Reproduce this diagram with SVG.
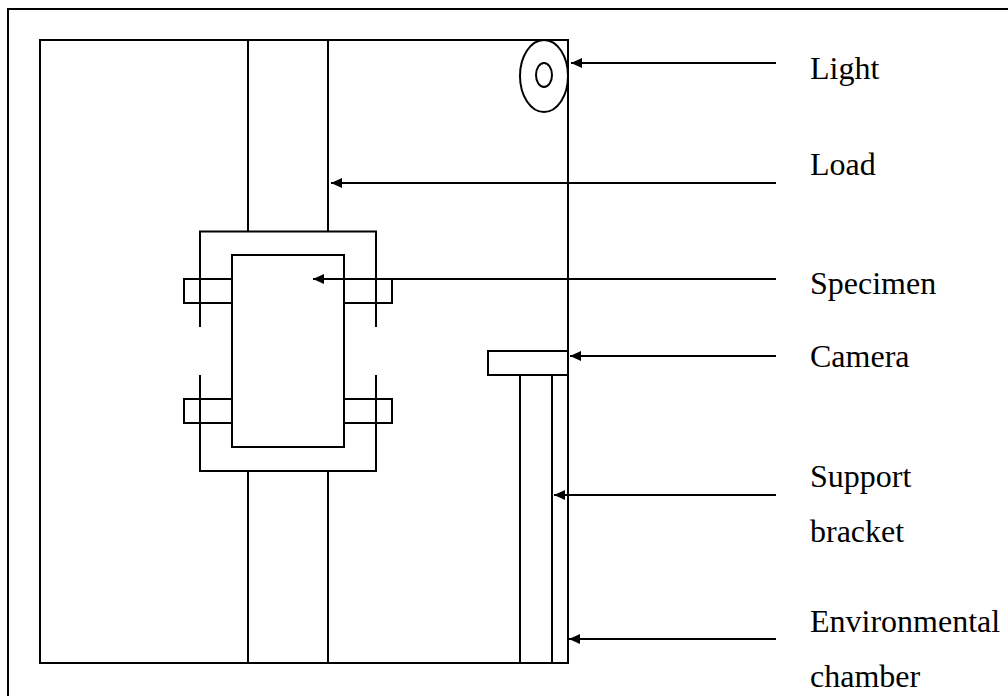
<svg xmlns="http://www.w3.org/2000/svg" width="1008" height="696" viewBox="0 0 1008 696">
<style>
.s{fill:none;stroke:#000;stroke-width:2;stroke-linejoin:miter}
.a{fill:none;stroke:#000;stroke-width:2;marker-end:url(#ah)}
text{font-family:"Liberation Serif","Times New Roman",serif;font-size:32px;fill:#000}
</style>
<defs><marker id="ah" markerUnits="userSpaceOnUse" markerWidth="12" markerHeight="10" refX="11" refY="5" orient="auto"><path d="M0 0L11 5L0 10Z" fill="#000"/></marker></defs>
<rect width="1008" height="696" fill="#fff"/>
<rect id="frame" class="s" x="8" y="9" width="1010" height="700"/>
<g id="chamber"><rect class="s" x="40" y="40" width="528" height="623"/></g>
<g id="load"><path class="s" d="M248 40V231M328 40V231M248 471V663M328 471V663"/></g>
<g id="grips"><path class="s" d="M200 327V231.500H376V327M200 375V471H376V375"/>
<path class="s" d="M232 279H184V303H232M232 399H184V423H232M344 279H392V303H344M344 399H392V423H344"/></g>
<g id="specimen"><rect class="s" x="232" y="255" width="112" height="192"/></g>
<g id="light"><ellipse class="s" cx="544" cy="76" rx="24" ry="36"/><ellipse class="s" cx="544" cy="75" rx="8" ry="12"/></g>
<g id="camera"><rect class="s" x="488" y="351" width="80" height="24"/></g>
<g id="bracket"><path class="s" d="M520 375V663M552 375V663"/></g>
<g id="connectors">
<path class="a" d="M776 63H571"/>
<path class="a" d="M776 183H331"/>
<path class="a" d="M776 279H313"/>
<path class="a" d="M776 356H570"/>
<path class="a" d="M776 495H554"/>
<path class="a" d="M776 639H569"/>
</g>
<g id="labels">
<text x="810" y="79">Light</text>
<text x="810" y="175">Load</text>
<text x="810" y="294">Specimen</text>
<text x="810" y="367">Camera</text>
<text x="810" y="487">Support</text>
<text x="810" y="542">bracket</text>
<text x="810" y="632">Environmental</text>
<text x="810" y="687">chamber</text>
</g>
</svg>
